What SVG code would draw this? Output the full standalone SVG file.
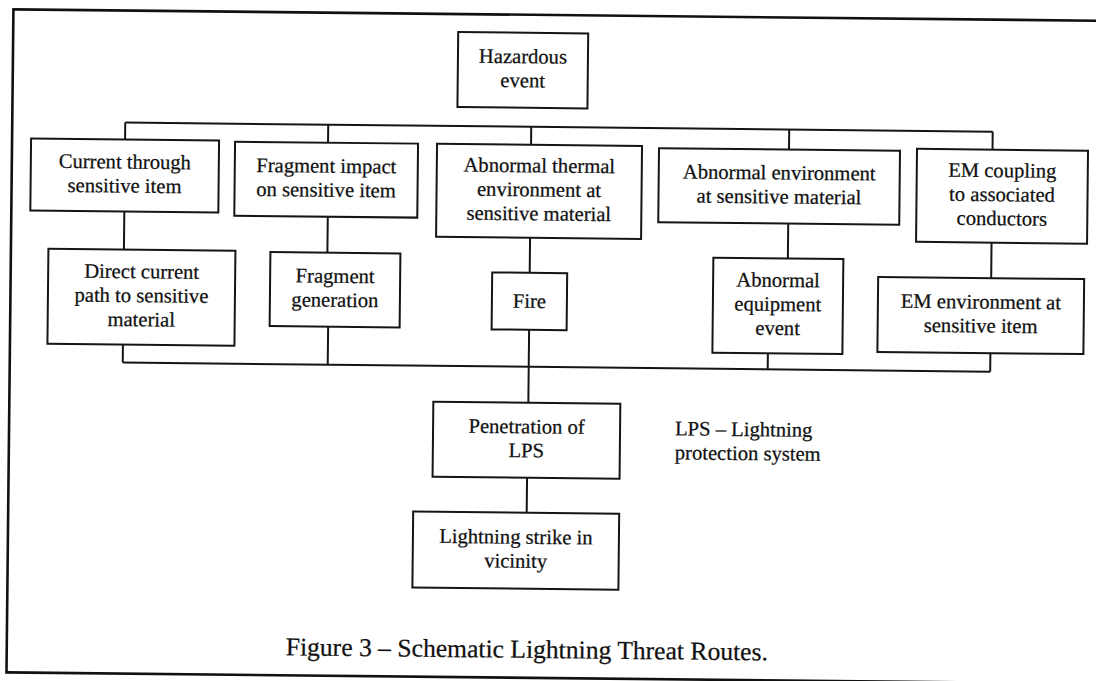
<svg xmlns="http://www.w3.org/2000/svg" width="1096" height="681" viewBox="0 0 1096 681">
<style>
.box{fill:#fff;stroke:#151515;stroke-width:2}
.lbl{font-family:"Liberation Serif","Times New Roman",serif;font-size:20.6px;fill:#111;stroke:#111;stroke-width:0.25;text-anchor:middle}
.note{font-family:"Liberation Serif","Times New Roman",serif;font-size:20.6px;fill:#111;stroke:#111;stroke-width:0.25}
.cap{font-family:"Liberation Serif","Times New Roman",serif;font-size:25.6px;fill:#111;stroke:#111;stroke-width:0.25}
.con{fill:none;stroke:#151515;stroke-width:2}
</style>
<rect width="1096" height="681" fill="#fff"/>
<g transform="rotate(0.6 548 340)">
<rect id="frame" x="10" y="15" width="1100" height="663" fill="none" stroke="#111" stroke-width="2.6"/>
<g id="connectors" class="con">
<path d="M123 127H990.5"/>
<path d="M123 127V144M326 127V145M529 127V145M787 127V147M990.5 127V145"/>
<path d="M123 216V254M326.5 219V255M529 238V273M787 221V256M990.5 238V273.5"/>
<path d="M123 349V367M328 329V367M768 351V367M990.5 348.5V367M529 330V403"/>
<path d="M123 367H990.5"/>
<path d="M528.5 478V513"/>
</g>
<g id="hazardous">
<rect class="box" x="455" y="33" width="130" height="75"/>
<text class="lbl" x="520" y="63.5">Hazardous</text>
<text class="lbl" x="520" y="87.5">event</text>
</g>
<g id="current-through">
<rect class="box" x="29" y="144" width="188" height="72"/>
<text class="lbl" x="123" y="173">Current through</text>
<text class="lbl" x="123" y="197">sensitive item</text>
</g>
<g id="fragment-impact">
<rect class="box" x="233" y="145" width="183" height="74"/>
<text class="lbl" x="324.5" y="175">Fragment impact</text>
<text class="lbl" x="324.5" y="199">on sensitive item</text>
</g>
<g id="abnormal-thermal">
<rect class="box" x="435" y="145" width="205" height="93"/>
<text class="lbl" x="537.5" y="172.5">Abnormal thermal</text>
<text class="lbl" x="537.5" y="196.5">environment at</text>
<text class="lbl" x="537.5" y="220.5">sensitive material</text>
</g>
<g id="abnormal-environment">
<rect class="box" x="657" y="147" width="241" height="74"/>
<text class="lbl" x="777.5" y="177">Abnormal environment</text>
<text class="lbl" x="777.5" y="201">at sensitive material</text>
</g>
<g id="em-coupling">
<rect class="box" x="915" y="145" width="171" height="93"/>
<text class="lbl" x="1000.5" y="172.5">EM coupling</text>
<text class="lbl" x="1000.5" y="196.5">to associated</text>
<text class="lbl" x="1000.5" y="220.5">conductors</text>
</g>
<g id="direct-current">
<rect class="box" x="47.5" y="254" width="187" height="95"/>
<text class="lbl" x="141" y="282.5">Direct current</text>
<text class="lbl" x="141" y="306.5">path to sensitive</text>
<text class="lbl" x="141" y="330.5">material</text>
</g>
<g id="fragment-generation">
<rect class="box" x="269.5" y="255" width="130" height="74"/>
<text class="lbl" x="334.5" y="285">Fragment</text>
<text class="lbl" x="334.5" y="309">generation</text>
</g>
<g id="fire">
<rect class="box" x="491.5" y="273" width="75" height="57"/>
<text class="lbl" x="529" y="308">Fire</text>
</g>
<g id="abnormal-equipment">
<rect class="box" x="712.5" y="256" width="130" height="95"/>
<text class="lbl" x="777.5" y="284.5">Abnormal</text>
<text class="lbl" x="777.5" y="308.5">equipment</text>
<text class="lbl" x="777.5" y="332.5">event</text>
</g>
<g id="em-environment">
<rect class="box" x="877.5" y="273.5" width="206" height="75"/>
<text class="lbl" x="980.5" y="304">EM environment at</text>
<text class="lbl" x="980.5" y="328">sensitive item</text>
</g>
<g id="penetration">
<rect class="box" x="434" y="403" width="187" height="75"/>
<text class="lbl" x="527.5" y="433.5">Penetration of</text>
<text class="lbl" x="527.5" y="457.5">LPS</text>
</g>
<g id="lightning-strike">
<rect class="box" x="415" y="513" width="206" height="76"/>
<text class="lbl" x="518" y="544">Lightning strike in</text>
<text class="lbl" x="518" y="568">vicinity</text>
</g>
<g id="lps-note">
<text class="note" x="676" y="434">LPS – Lightning</text>
<text class="note" x="676" y="458">protection system</text>
</g>
<text class="cap" x="289" y="658">Figure 3 – Schematic Lightning Threat Routes.</text>
</g>
</svg>
